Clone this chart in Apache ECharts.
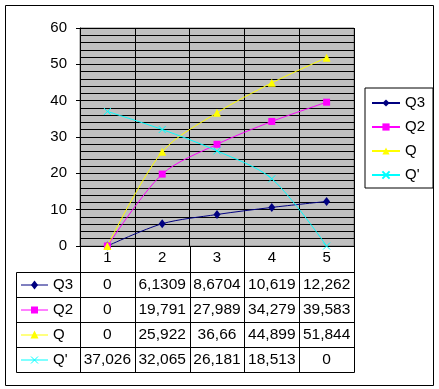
<!DOCTYPE html>
<html><head><meta charset="utf-8">
<script src="https://cdn.jsdelivr.net/npm/echarts@6/dist/echarts.min.js"></script>
<style>html,body{margin:0;padding:0;background:#fff}#c{width:439px;height:389px}</style>
</head><body><div id="c"></div>
<script>
const categories = ['1', '2', '3', '4', '5'];
const seriesNames = ['Q3', 'Q2', 'Q', "Q'"];
const q3 = [0, 6.1309, 8.6704, 10.619, 12.262];
const q2 = [0, 19.791, 27.989, 34.279, 39.583];
const q = [0, 25.922, 36.66, 44.899, 51.844];
const qPrime = [37.026, 32.065, 26.181, 18.513, 0];
const yMin = 0, yMax = 60, yStep = 10;

const colors = ['#000080', '#ff00ff', '#ffff00', '#00ffff'];
const symbols = ['diamond', 'rect', 'triangle', 'path://M0,0L10,10M10,0L0,10'];
const sizes = [[7, 9], 7, 8, 7];
const allData = [q3, q2, q, qPrime];
const FONT = '"Liberation Sans", Arial, sans-serif';

const chart = echarts.init(document.getElementById('c'), null, {renderer: 'canvas'});
chart.setOption({
  animation: false,
  textStyle: {fontFamily: FONT},
  grid: {left: 80, top: 28, right: 85, bottom: 143, show: true, backgroundColor: '#c0c0c0', borderColor: '#808080', borderWidth: 1},
  legend: {
    orient: 'vertical', left: 365, top: 88,
    backgroundColor: '#fff', borderColor: '#000', borderWidth: 1,
    padding: [7, 8, 5, 6], itemWidth: 28, itemHeight: 9, itemGap: 8,
    textStyle: {fontSize: 15, color: '#000', fontFamily: FONT, lineHeight: 16},
    data: seriesNames
  },
  xAxis: {
    type: 'category', data: categories, boundaryGap: true,
    axisLine: {lineStyle: {color: '#000', width: 1}},
    axisTick: {show: false},
    axisLabel: {fontSize: 15, color: '#000', margin: 4, fontFamily: FONT},
    splitLine: {show: true, lineStyle: {color: '#000', width: 1}}
  },
  yAxis: {
    type: 'value', min: yMin, max: yMax, interval: yStep,
    axisLine: {show: true, lineStyle: {color: '#000', width: 1}},
    axisTick: {show: true, length: 4, lineStyle: {color: '#000'}},
    axisLabel: {fontSize: 15, color: '#000', margin: 13, fontFamily: FONT},
    splitLine: {show: true, lineStyle: {color: '#000', width: 1}},
    minorTick: {show: false, splitNumber: 5},
    minorSplitLine: {show: true, lineStyle: {color: '#000', width: 1}}
  },
  series: seriesNames.map((n, i) => ({
    name: n, type: 'line', data: allData[i], smooth: 0.3,
    symbol: symbols[i], symbolSize: sizes[i], showSymbol: true,
    lineStyle: {color: colors[i], width: 1},
    itemStyle: i === 3 ? {color: colors[i], borderColor: colors[i], borderWidth: 1} : {color: colors[i], borderWidth: 0}
  }))
});

// Data table below the plot
const fmt = v => String(v).replace('.', ',');
const half = chart.getModel().getComponent('xAxis', 0).axis.getBandWidth() / 2;
const centers = categories.map((c, i) => chart.convertToPixel({xAxisIndex: 0}, i));
const bounds = [centers[0] - half].concat(centers.map(c => c + half)).map(x => Math.round(x) + 0.5);
const axisY = 246, tableTop = 272, rowH = 25, keyLeft = 16.5;
const g = [];
const ln = (x1, y1, x2, y2) => g.push({type: 'line', shape: {x1, y1, x2, y2}, style: {stroke: '#000', lineWidth: 1}, z: 10});
for (let r = 0; r <= seriesNames.length; r++) {
  const y = tableTop + r * rowH + 0.5;
  ln(keyLeft, y, bounds[bounds.length - 1], y);
}
const tableBottom = tableTop + seriesNames.length * rowH + 0.5;
ln(keyLeft, tableTop + 0.5, keyLeft, tableBottom);
bounds.forEach(x => ln(x, axisY, x, tableBottom));
seriesNames.forEach((n, r) => {
  const cy = tableTop + r * rowH + rowH / 2 + 0.5;
  const x1 = 21, x2 = 48, mx = 34.5;
  g.push({type: 'line', shape: {x1, y1: cy, x2, y2: cy}, style: {stroke: colors[r], lineWidth: 1}, z: 11});
  if (r === 0) g.push({type: 'polygon', shape: {points: [[mx, cy - 4.5], [mx + 3.5, cy], [mx, cy + 4.5], [mx - 3.5, cy]]}, style: {fill: colors[r]}, z: 12});
  if (r === 1) g.push({type: 'rect', shape: {x: mx - 3.5, y: cy - 3.5, width: 7, height: 7}, style: {fill: colors[r]}, z: 12});
  if (r === 2) g.push({type: 'polygon', shape: {points: [[mx, cy - 4.5], [mx + 4, cy + 3.5], [mx - 4, cy + 3.5]]}, style: {fill: colors[r]}, z: 12});
  if (r === 3) {
    g.push({type: 'line', shape: {x1: mx - 3.5, y1: cy - 3.5, x2: mx + 3.5, y2: cy + 3.5}, style: {stroke: colors[r], lineWidth: 1}, z: 12});
    g.push({type: 'line', shape: {x1: mx + 3.5, y1: cy - 3.5, x2: mx - 3.5, y2: cy + 3.5}, style: {stroke: colors[r], lineWidth: 1}, z: 12});
  }
  g.push({type: 'text', x: 53, y: cy, style: {text: n, fontSize: 15, fontFamily: FONT, fill: '#000', textAlign: 'left', textVerticalAlign: 'middle'}, z: 12});
  allData[r].forEach((v, i) => {
    g.push({type: 'text', x: centers[i], y: cy, style: {text: fmt(v), fontSize: 15.5, fontFamily: FONT, fill: '#000', textAlign: 'center', textVerticalAlign: 'middle'}, z: 12});
  });
});
g.push({type: 'rect', shape: {x: 5.5, y: 5.5, width: 428, height: 380}, style: {fill: 'none', stroke: '#000', lineWidth: 1}, z: 9});
chart.setOption({graphic: g});
</script></body></html>
